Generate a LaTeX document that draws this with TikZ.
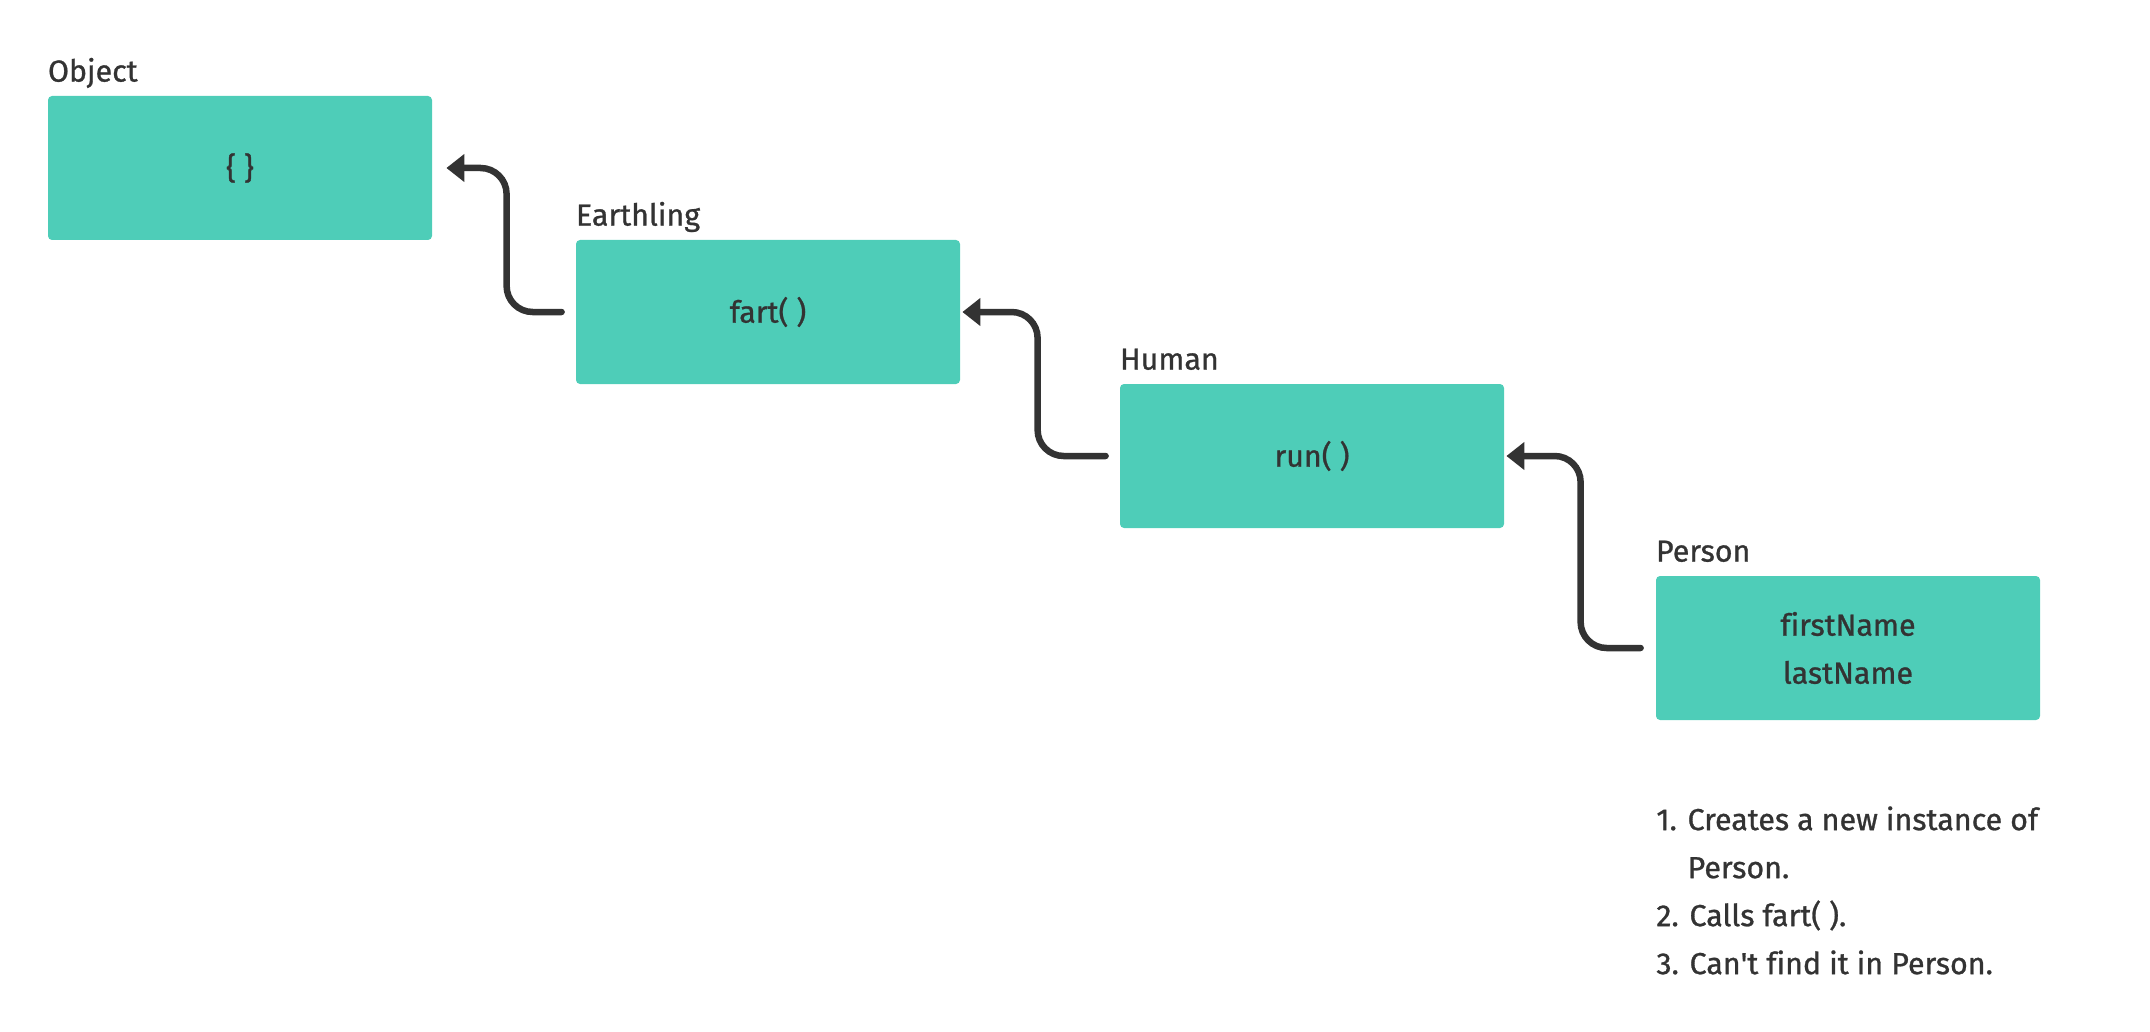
\documentclass[tikz,border=0pt]{standalone}
\usepackage{fontspec}
\setmainfont{Fira Sans}[Ligatures={TeX,NoCommon}, FakeBold=0.9]
\usetikzlibrary{arrows.meta}
\definecolor{boxteal}{HTML}{4ECDB8}
\definecolor{inkgray}{HTML}{333333}
\begin{document}
\begin{tikzpicture}[x=0.5pt, y=-0.5pt]

      \tikzstyle{proto_style} = [rectangle, fill=boxteal, rounded corners=2pt, minimum width=192pt, minimum height=72pt, inner sep=0pt, text=inkgray, align=center, font=\fontsize{15.2}{24}\selectfont]
        \tikzstyle{label_style} = [anchor=base west, inner sep=0pt, yshift=7pt, text=inkgray, font=\fontsize{15.2}{24}\selectfont]
            \tikzstyle{link_style} = [draw=inkgray, line width=3.25pt, rounded corners=13pt, line cap=round, -{Triangle[length=9pt, width=13.5pt]}]

            \useasboundingbox (0,0) rectangle (2150,1032);

            \draw
              (240, 168) node[proto_style] (obj){\{ \}}
              (768, 312) node[proto_style] (earth){fart( )}
              (1312, 456) node[proto_style] (human){run( )}
              (1848, 648) node[proto_style] (person){firstName\\lastName}
              (obj.north west) node[label_style] (obj_lbl){Object}
              (earth.north west) node[label_style] (earth_lbl){Earthling}
              (human.north west) node[label_style] (human_lbl){Human}
              (person.north west) node[label_style] (person_lbl){Person}
              (1656, 806) node[anchor=north west, inner sep=0pt, align=left, text=inkgray, font=\fontsize{15.2}{24}\selectfont] (steps){1. Creates a new instance of\\\phantom{1. }Person.\\2. Calls fart( ).\\3. Can\textquotesingle t find it in Person.};

      \begin{scope}[-]
        \draw[link_style] ([xshift=-7pt]earth.west) -- ++(-55,0) |- ([xshift=7pt]obj.east);
        \draw[link_style] ([xshift=-7pt]human.west) -- ++(-68,0) |- ([xshift=1pt]earth.east);
        \draw[link_style] ([xshift=-7.5pt]person.west) -- ++(-60,0) |- ([xshift=1pt]human.east);
      \end{scope}
    \end{tikzpicture}
\end{document}
